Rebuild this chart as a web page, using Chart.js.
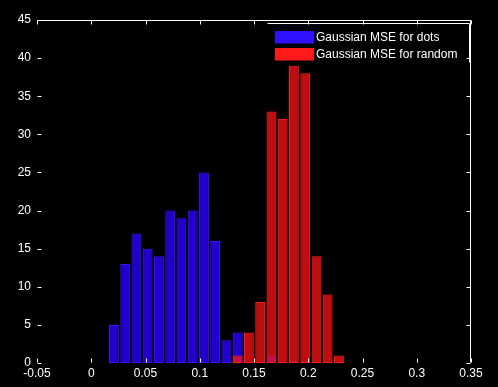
<!DOCTYPE html>
<html>
<head>
<meta charset="utf-8">
<script src="https://cdn.jsdelivr.net/npm/chart.js@4/dist/chart.umd.min.js"></script>
<style>
  html, body { margin: 0; padding: 0; background: #000; }
  #wrap { width: 498px; height: 387px; position: relative; }
</style>
</head>
<body>
<div id="wrap"><canvas id="c" width="498" height="387"></canvas></div>
<script>
// Bin centres (x)
const binCenters = [0.0209, 0.0313, 0.0416, 0.0520, 0.0624, 0.0728, 0.0831, 0.0935, 0.1039, 0.1142,
                    0.1246, 0.1350, 0.1453, 0.1557, 0.1661, 0.1765, 0.1868, 0.1972, 0.2076, 0.2179, 0.2283];
// Counts per bin
const blueCounts = [5, 13, 17, 15, 14, 20, 19, 20, 25, 16, 3, 4, 0, 0, 1, 0, 0, 0, 0, 0, 0];
const redCounts  = [0, 0, 0, 0, 0, 0, 0, 0, 0, 0, 0, 1, 4, 8, 33, 32, 39, 38, 14, 9, 1];
const seriesNames = ['Gaussian MSE for dots', 'Gaussian MSE for random'];
// Tick values / labels
const xTickValues = [-0.05, 0, 0.05, 0.1, 0.15, 0.2, 0.25, 0.3, 0.35];
const xTickLabels = ['-0.05', '0', '0.05', '0.1', '0.15', '0.2', '0.25', '0.3', '0.35'];
const yTickValues = [0, 5, 10, 15, 20, 25, 30, 35, 40, 45];
const yTickLabels = ['0', '5', '10', '15', '20', '25', '30', '35', '40', '45'];

const toPoints = (counts) => binCenters.map((x, i) => ({ x: x, y: counts[i] > 0 ? counts[i] : null }));

const FONT = '"Liberation Sans", Arial, sans-serif';

const matlabAxes = {
  id: 'matlabAxes',
  afterDatasetsDraw(chart) {
    const ctx = chart.ctx;
    const a = chart.chartArea;
    const xs = chart.scales.x, ys = chart.scales.y;
    const L = Math.round(a.left) + 0.5, R = Math.round(a.right) - 0.5;
    const T = Math.round(a.top) + 0.5, B = Math.round(a.bottom) - 0.5;
    const tl = 4;
    ctx.save();
    ctx.strokeStyle = '#ffffff';
    ctx.lineWidth = 1;
    ctx.beginPath();
    // top and right box lines
    ctx.moveTo(L, T); ctx.lineTo(R, T); ctx.lineTo(R, B);
    // x ticks (inward) bottom and top
    xTickValues.forEach(v => {
      const px = Math.round(xs.getPixelForValue(v)) + 0.5;
      ctx.moveTo(px, B); ctx.lineTo(px, B - tl);
      ctx.moveTo(px, T); ctx.lineTo(px, T + tl);
    });
    // y ticks (inward) left and right
    yTickValues.forEach(v => {
      const py = Math.round(ys.getPixelForValue(v)) + 0.5;
      ctx.moveTo(L, py); ctx.lineTo(L + tl, py);
      ctx.moveTo(R, py); ctx.lineTo(R - tl, py);
    });
    ctx.stroke();
    ctx.restore();
  },
  afterDraw(chart) {
    const ctx = chart.ctx;
    const ds = chart.data.datasets;
    ctx.save();
    // legend frame (top and right edges)
    ctx.strokeStyle = '#ffffff';
    ctx.lineWidth = 1;
    ctx.beginPath();
    ctx.moveTo(267.5, 23.5); ctx.lineTo(469.5, 23.5); ctx.lineTo(469.5, 62.5);
    ctx.stroke();
    // swatches and labels
    const rows = [31, 48];
    ds.forEach((d, i) => {
      ctx.fillStyle = d.legendColor;
      ctx.fillRect(275, rows[i], 39, 12.5);
      ctx.fillStyle = '#ffffff';
      ctx.font = '12px ' + FONT;
      ctx.textBaseline = 'middle';
      ctx.textAlign = 'left';
      ctx.fillText(d.label, 316, rows[i] + 6.5);
    });
    ctx.restore();
  }
};

new Chart(document.getElementById('c'), {
  type: 'bar',
  data: {
    datasets: [
      {
        label: seriesNames[0],
        data: toPoints(blueCounts),
        backgroundColor: 'rgb(36, 0, 204)',
        borderColor: 'rgb(58, 20, 255)',
        borderWidth: 1,
        borderSkipped: false,
        legendColor: 'rgb(48, 16, 255)',
        order: 1
      },
      {
        label: seriesNames[1],
        data: toPoints(redCounts),
        backgroundColor: 'rgba(255, 20, 20, 0.74)',
        borderColor: 'rgb(255, 28, 28)',
        borderWidth: 1,
        borderSkipped: false,
        legendColor: 'rgb(255, 26, 26)',
        order: 0
      }
    ]
  },
  options: {
    responsive: false,
    animation: false,
    devicePixelRatio: 1,
    grouped: false,
    barPercentage: 0.88,
    categoryPercentage: 1.0,
    layout: { padding: { top: 20, right: 27, left: 0, bottom: 0 } },
    plugins: {
      legend: { display: false },
      tooltip: { enabled: false },
      title: { display: false }
    },
    scales: {
      x: {
        type: 'linear',
        min: -0.05,
        max: 0.35,
        offset: false,
        grid: { display: false, drawTicks: false, offset: false },
        border: { display: false },
        afterBuildTicks: (s) => { s.ticks = xTickValues.map(v => ({ value: v })); },
        afterFit: (s) => { s.height = 24; },
        ticks: {
          color: '#ffffff',
          font: { size: 12, family: FONT },
          padding: 3,
          maxRotation: 0,
          autoSkip: false,
          callback: (v, i) => xTickLabels[i]
        }
      },
      y: {
        type: 'linear',
        min: 0,
        max: 45,
        grid: { display: false, drawTicks: false },
        border: { display: false },
        afterBuildTicks: (s) => { s.ticks = yTickValues.map(v => ({ value: v })); },
        afterFit: (s) => { s.width = 37; },
        ticks: {
          color: '#ffffff',
          font: { size: 12, family: FONT },
          padding: 6,
          autoSkip: false,
          callback: (v, i) => yTickLabels[i]
        }
      }
    }
  },
  plugins: [matlabAxes]
});
</script>
</body>
</html>
